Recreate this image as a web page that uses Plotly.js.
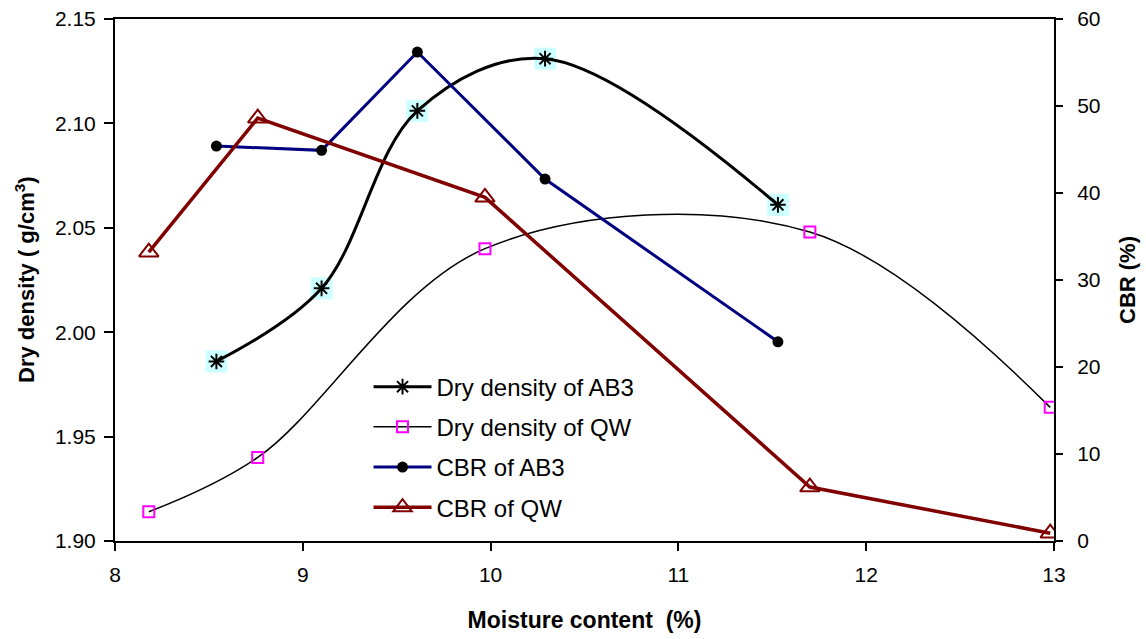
<!DOCTYPE html>
<html>
<head>
<meta charset="utf-8">
<script src="https://cdn.plot.ly/plotly-3.0.1.min.js"></script>
<style>html,body{margin:0;padding:0;background:#fff;}#chart{width:1146px;height:639px;}</style>
</head>
<body>
<div id="chart"></div>
<script>
// Moisture content (%)
const moistureAB3 = [8.54, 9.10, 9.61, 10.29, 11.53];
const moistureQW  = [8.18, 8.76, 9.97, 11.70, 12.98];
// Dry density (g/cm3)
const dryDensityAB3 = [1.986, 2.021, 2.106, 2.131, 2.061];
const dryDensityQW  = [1.914, 1.940, 2.040, 2.048, 1.964];
// CBR (%)
const cbrAB3 = [45.4, 44.9, 56.2, 41.6, 22.9];
const cbrQW  = [33.2, 48.6, 39.5, 6.2, 0.9];

const xTicks = [8, 9, 10, 11, 12, 13];
const yTicks = [1.90, 1.95, 2.00, 2.05, 2.10, 2.15];
const y2Ticks = [0, 10, 20, 30, 40, 50, 60];

const FONT = 'Liberation Sans, Arial, sans-serif';

const traces = [
  { // cyan background boxes behind the asterisks
    x: moistureAB3, y: dryDensityAB3, mode: 'markers', showlegend: false, hoverinfo: 'skip',
    marker: { symbol: 'square', size: 22, color: '#ccffff', line: { width: 0 } }
  },
  {
    x: moistureAB3, y: dryDensityAB3, name: 'Dry density of AB3', mode: 'lines+markers',
    legendgroup: 'a',
    line: { color: '#000000', width: 3, shape: 'spline', smoothing: 1 },
    marker: { symbol: 'asterisk-open', size: 13, color: '#000000', line: { color: '#000000', width: 2 } }
  },
  {
    x: moistureQW, y: dryDensityQW, name: 'Dry density of QW', mode: 'lines+markers',
    legendgroup: 'b',
    line: { color: '#000000', width: 1.5, shape: 'spline', smoothing: 1 },
    marker: { symbol: 'square-open', size: 11, color: '#ff00ff', line: { color: '#ff00ff', width: 2 } }
  },
  {
    x: moistureAB3, y: cbrAB3, yaxis: 'y2', name: 'CBR of AB3', mode: 'lines+markers',
    legendgroup: 'c',
    line: { color: '#000080', width: 3 },
    marker: { symbol: 'circle', size: 11, color: '#000000' }
  },
  {
    x: moistureQW, y: cbrQW, yaxis: 'y2', name: 'CBR of QW', mode: 'lines+markers',
    legendgroup: 'd',
    line: { color: '#800000', width: 3.5 },
    marker: { symbol: 'triangle-up-open', size: 17, color: '#800000', line: { color: '#800000', width: 2 } }
  }
];

const layout = {
  width: 1146, height: 639,
  margin: { l: 115, r: 92, t: 19, b: 98, pad: 0 },
  paper_bgcolor: '#ffffff', plot_bgcolor: '#ffffff',
  font: { family: FONT, size: 21, color: '#000000' },
  showlegend: true,
  legend: {
    x: 0.27, y: 0.338, xanchor: 'left', yanchor: 'top',
    bgcolor: 'rgba(0,0,0,0)', borderwidth: 0,
    font: { family: FONT, size: 24, color: '#000000' },
    traceorder: 'grouped', tracegroupgap: 6, itemwidth: 58
  },
  annotations: [{
    text: '<b>Dry density ( g/cm<sup>3</sup>)</b>',
    xref: 'paper', yref: 'paper', x: 0, y: 0.5, xanchor: 'center', yanchor: 'middle',
    xshift: -90, textangle: -90, showarrow: false,
    font: { family: FONT, size: 22, color: '#000000' }
  }],
  xaxis: {
    range: [8, 13], tickvals: xTicks, ticktext: xTicks.map(String),
    showline: true, linecolor: '#000000', linewidth: 2, mirror: true,
    ticks: 'outside', ticklen: 8, tickwidth: 2, tickcolor: '#000000',
    ticklabelstandoff: 6, showgrid: false, zeroline: false,
    tickfont: { family: FONT, size: 21 },
    title: { text: '<b>Moisture content  (%)</b>', font: { family: FONT, size: 23 }, standoff: 27 }
  },
  yaxis: {
    range: [1.90, 2.15], tickvals: yTicks, ticktext: yTicks.map(v => v.toFixed(2)),
    showline: true, linecolor: '#000000', linewidth: 2,
    ticks: 'outside', ticklen: 9, tickwidth: 2, tickcolor: '#000000',
    ticklabelstandoff: 4, showgrid: false, zeroline: false,
    tickfont: { family: FONT, size: 21 }
  },
  yaxis2: {
    range: [0, 60], tickvals: y2Ticks, ticktext: y2Ticks.map(String),
    overlaying: 'y', side: 'right',
    showline: true, linecolor: '#000000', linewidth: 2,
    ticks: 'outside', ticklen: 7, tickwidth: 2, tickcolor: '#000000',
    ticklabelstandoff: 10, showgrid: false, zeroline: false,
    tickfont: { family: FONT, size: 21 },
    title: { text: '<b>CBR (%)</b>', font: { family: FONT, size: 22 }, standoff: 20 }
  }
};

Plotly.newPlot('chart', traces, layout, { displayModeBar: false, staticPlot: true });
</script>
</body>
</html>
